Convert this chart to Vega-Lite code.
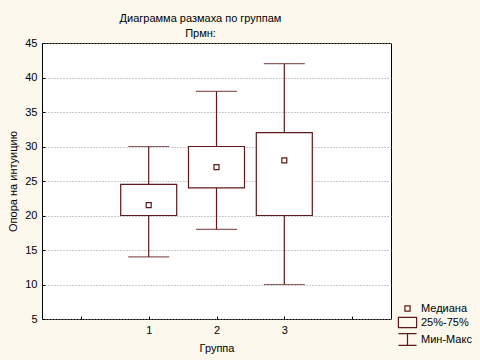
{
  "$schema": "https://vega.github.io/schema/vega-lite/v6.json",
  "width": 349,
  "height": 276,
  "autosize": {"type": "none"},
  "padding": {"left": 42, "top": 43, "right": 89, "bottom": 41},
  "background": "#fcf8ee",
  "view": {"fill": "white", "stroke": "black", "strokeWidth": 1},
  "config": {
    "font": "Liberation Sans",
    "axis": {"labelFont": "Liberation Sans", "titleFont": "Liberation Sans", "labelFontSize": 11, "titleFontSize": 11, "titleFontWeight": "normal", "labelColor": "black", "titleColor": "black", "domain": false, "tickColor": "black", "labelOverlap": false},
    "legend": {"labelFont": "Liberation Sans", "labelFontSize": 11, "labelColor": "black"}
  },
  "title": {
    "text": "Диаграмма размаха по группам",
    "subtitle": "Прмн:",
    "font": "Liberation Sans",
    "fontSize": 11,
    "fontWeight": "normal",
    "subtitleFont": "Liberation Sans",
    "subtitleFontSize": 11,
    "subtitleColor": "black",
    "subtitlePadding": 4,
    "anchor": "middle",
    "dx": -16,
    "offset": -2
  },
  "datasets": {
    "boxes": [
      {"group": 1, "min": 14, "q1": 20, "median": 21.5, "q3": 24.5, "max": 30},
      {"group": 2, "min": 18, "q1": 24, "median": 27, "q3": 30, "max": 38},
      {"group": 3, "min": 10, "q1": 20, "median": 28, "q3": 32, "max": 42}
    ],
    "legendItems": [
      {"item": "Медиана"},
      {"item": "25%-75%"},
      {"item": "Мин-Макс"}
    ]
  },
  "encoding": {
    "x": {
      "field": "group", "type": "quantitative",
      "scale": {"domain": [-0.5, 4.5], "nice": false, "zero": false},
      "axis": {"title": "Группа", "values": [0, 1, 2, 3, 4], "labelExpr": "datum.value >= 1 && datum.value <= 3 ? datum.label : ''", "grid": false, "tickSize": -3, "labelPadding": 8, "titlePadding": 7}
    }
  },
  "layer": [
    {
      "data": {"name": "boxes"},
      "mark": {"type": "rule", "color": "#5e1a1a", "strokeWidth": 1.2},
      "encoding": {
        "y": {"field": "min", "type": "quantitative",
          "scale": {"domain": [5, 45], "nice": false, "zero": false},
          "axis": {"title": "Опора на интуицию", "values": [5, 10, 15, 20, 25, 30, 35, 40, 45], "tickCount": 9, "grid": true, "gridColor": "#999999", "gridDash": [1, 2], "gridWidth": 1, "tickSize": -3, "labelPadding": 8, "titlePadding": 6}},
        "y2": {"field": "max"}
      }
    },
    {
      "data": {"name": "boxes"},
      "mark": {"type": "tick", "orient": "horizontal", "size": 41, "thickness": 1.2, "color": "#5e1a1a"},
      "encoding": {"y": {"field": "min", "type": "quantitative", "axis": {"title": "Опора на интуицию", "values": [5, 10, 15, 20, 25, 30, 35, 40, 45], "tickCount": 9, "grid": true, "gridColor": "#999999", "gridDash": [1, 2], "gridWidth": 1, "tickSize": -3, "labelPadding": 8, "titlePadding": 6}}}
    },
    {
      "data": {"name": "boxes"},
      "mark": {"type": "tick", "orient": "horizontal", "size": 41, "thickness": 1.2, "color": "#5e1a1a"},
      "encoding": {"y": {"field": "max", "type": "quantitative", "axis": {"title": "Опора на интуицию", "values": [5, 10, 15, 20, 25, 30, 35, 40, 45], "tickCount": 9, "grid": true, "gridColor": "#999999", "gridDash": [1, 2], "gridWidth": 1, "tickSize": -3, "labelPadding": 8, "titlePadding": 6}}}
    },
    {
      "data": {"name": "boxes"},
      "mark": {"type": "bar", "size": 56, "fill": "white", "stroke": "#5e1a1a", "strokeWidth": 1.2},
      "encoding": {
        "y": {"field": "q1", "type": "quantitative", "axis": {"title": "Опора на интуицию", "values": [5, 10, 15, 20, 25, 30, 35, 40, 45], "tickCount": 9, "grid": true, "gridColor": "#999999", "gridDash": [1, 2], "gridWidth": 1, "tickSize": -3, "labelPadding": 8, "titlePadding": 6}},
        "y2": {"field": "q3"}
      }
    },
    {
      "data": {"name": "boxes"},
      "mark": {"type": "point", "shape": "square", "size": 25, "filled": false, "stroke": "#5e1a1a", "strokeWidth": 1.2, "fill": "white", "opacity": 1},
      "encoding": {"y": {"field": "median", "type": "quantitative", "axis": {"title": "Опора на интуицию", "values": [5, 10, 15, 20, 25, 30, 35, 40, 45], "tickCount": 9, "grid": true, "gridColor": "#999999", "gridDash": [1, 2], "gridWidth": 1, "tickSize": -3, "labelPadding": 8, "titlePadding": 6}}}
    },
    {
      "data": {"name": "legendItems"},
      "mark": {"type": "point", "opacity": 0},
      "encoding": {
        "x": {"datum": 1, "type": "quantitative"},
        "y": {"datum": 20, "type": "quantitative", "axis": {"title": "Опора на интуицию", "values": [5, 10, 15, 20, 25, 30, 35, 40, 45], "tickCount": 9, "grid": true, "gridColor": "#999999", "gridDash": [1, 2], "gridWidth": 1, "tickSize": -3, "labelPadding": 8, "titlePadding": 6}},
        "shape": {
          "field": "item", "type": "nominal",
          "scale": {"domain": ["Медиана", "25%-75%", "Мин-Макс"], "range": ["M-0.4,-0.4H0.4V0.4H-0.4Z", "M-1.4,-0.8H1.4V0.8H-1.4Z", "M-1.4,-0.9H1.4M0,-0.9V0.9M-1.4,0.9H1.4"]},
          "legend": {"title": null, "orient": "none", "legendX": 358, "legendY": 258, "padding": 0, "symbolSize": 169, "symbolStrokeColor": "#5e1a1a", "symbolFillColor": "transparent", "symbolStrokeWidth": 1.2, "symbolOpacity": 1, "labelOffset": 6, "rowPadding": 0}
        }
      }
    }
  ]
}
